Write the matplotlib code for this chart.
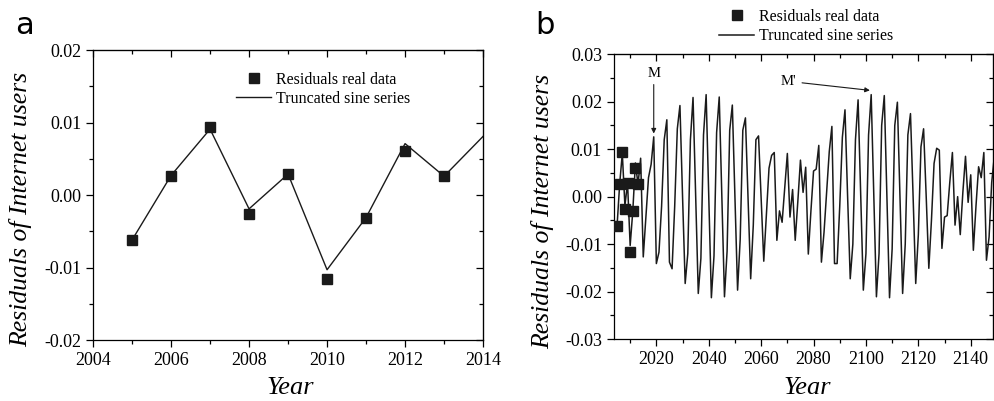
import numpy as np
import matplotlib
matplotlib.use("Agg")
import matplotlib.pyplot as plt
from matplotlib.ticker import MultipleLocator

plt.rcParams["font.family"] = ["Liberation Serif", "DejaVu Serif"]

# ── data ──────────────────────────────────────────────────────────────────────
# observed residuals (squares)
obs_years = [2005, 2006, 2007, 2008, 2009, 2010, 2011, 2012, 2013]
obs_resid = [-0.0062, 0.0027, 0.0094, -0.0026, 0.0029, -0.0116, -0.0031, 0.0061, 0.0026]

# truncated sine series fit, panel a (2005-2014)
fit_years_a = [2005, 2006, 2007, 2008, 2009, 2010, 2011, 2012, 2013, 2014]
fit_vals_a = [-0.0062, 0.0027, 0.0091, -0.0019, 0.0029, -0.0103, -0.0031, 0.0071, 0.0026, 0.0081]

# truncated sine series extrapolated, panel b (2015-2149)
ext_years = list(range(2015, 2150))
ext_vals = [
    -0.0127, -0.0043, 0.0040, 0.0068, 0.0126,   # 2015-2019
    -0.0141, -0.0117, -0.0020, 0.0120, 0.0162,  # 2020-2024
    -0.0138, -0.0152, -0.0020, 0.0143, 0.0192,  # 2025-2029
    0.0000, -0.0183, -0.0120, 0.0120, 0.0209,   # 2030-2034
    0.0005, -0.0204, -0.0130, 0.0130, 0.0215,   # 2035-2039
    0.0000, -0.0213, -0.0125, 0.0135, 0.0210,   # 2040-2044
    0.0000, -0.0211, -0.0115, 0.0140, 0.0193,   # 2045-2049
    0.0000, -0.0197, -0.0090, 0.0140, 0.0166,   # 2050-2054
    0.0000, -0.0173, -0.0060, 0.0120, 0.0128,   # 2055-2059
    -0.0005, -0.0136, -0.0040, 0.0060, 0.0087,  # 2060-2064
    0.0093, -0.0092, -0.0030, -0.0054, 0.0020,  # 2065-2069
    0.0091, -0.0043, 0.0015, -0.0092, -0.0010,  # 2070-2074
    0.0077, 0.0009, 0.0062, -0.0121, -0.0030,   # 2075-2079
    0.0054, 0.0058, 0.0108, -0.0138, -0.0075,   # 2080-2084
    0.0010, 0.0095, 0.0148, -0.0141, -0.0141,   # 2085-2089
    -0.0020, 0.0125, 0.0183, 0.0000, -0.0173,   # 2090-2094
    -0.0100, 0.0120, 0.0204, 0.0000, -0.0197,   # 2095-2099
    -0.0120, 0.0130, 0.0215, 0.0000, -0.0211,   # 2100-2104
    -0.0120, 0.0150, 0.0213, 0.0000, -0.0213,   # 2105-2109
    -0.0110, 0.0150, 0.0199, 0.0000, -0.0204,   # 2110-2114
    -0.0100, 0.0130, 0.0175, 0.0000, -0.0183,   # 2115-2119
    -0.0080, 0.0105, 0.0143, 0.0000, -0.0151,   # 2120-2124
    -0.0050, 0.0070, 0.0102, 0.0098, -0.0109,   # 2125-2129
    -0.0043, -0.0040, 0.0030, 0.0093, -0.0060,  # 2130-2134
    0.0000, -0.0080, 0.0010, 0.0085, -0.0012,   # 2135-2139
    0.0046, -0.0113, -0.0020, 0.0063, 0.0040,   # 2140-2144
    0.0093, -0.0134, -0.0085, 0.0030, 0.0085,   # 2145-2149
]

xticks_a = [2004, 2006, 2008, 2010, 2012, 2014]
yticks_a = [-0.02, -0.01, 0.00, 0.01, 0.02]
xticks_b = [2020, 2040, 2060, 2080, 2100, 2120, 2140]
yticks_b = [-0.03, -0.02, -0.01, 0.00, 0.01, 0.02, 0.03]

fit_years_b = fit_years_a + ext_years
fit_vals_b = fit_vals_a + ext_vals

INK = "#1a1a1a"


def dress(a, xt, xminor, yt, yminor):
    """Origin-like ticks: outward on left/bottom, inward on top/right."""
    a.set_xticks(xt)
    a.set_xticklabels([str(t) for t in xt])
    a.set_yticks(yt)
    a.set_yticklabels([f"{t:.2f}" for t in yt])
    a.xaxis.set_minor_locator(MultipleLocator(xminor))
    a.yaxis.set_minor_locator(MultipleLocator(yminor))
    a.tick_params(which="both", direction="out", labelsize=13, width=0.9)
    a.tick_params(which="major", length=5)
    a.tick_params(which="minor", length=3)
    for sp in a.spines.values():
        sp.set_linewidth(0.9)
    tx = a.secondary_xaxis("top")
    tx.set_xticks(xt)
    tx.xaxis.set_minor_locator(MultipleLocator(xminor))
    ty = a.secondary_yaxis("right")
    ty.set_yticks(yt)
    ty.yaxis.set_minor_locator(MultipleLocator(yminor))
    for s in (tx, ty):
        s.tick_params(which="both", direction="in", labeltop=False,
                      labelright=False, width=0.9)
        s.tick_params(which="major", length=5)
        s.tick_params(which="minor", length=3)


fig = plt.figure(figsize=(9.95, 4.01), dpi=100)

# ── panel a ──────────────────────────────────────────────────────────────────
ax = fig.add_axes([0.0935, 0.152, 0.392, 0.723])
ax.plot(fit_years_a, fit_vals_a, color=INK, lw=1.0, zorder=2,
        label="Truncated sine series")
ax.plot(obs_years, obs_resid, ls="none", marker="s", ms=6.5, color=INK,
        zorder=3, label="Residuals real data")
ax.set_xlim(2004, 2014)
ax.set_ylim(-0.02, 0.02)
dress(ax, xticks_a, 1, yticks_a, 0.005)
ax.set_xlabel("Year", fontsize=19, style="italic")
ax.set_ylabel("Residuals of Internet users", fontsize=18.5, style="italic")
ax.xaxis.set_label_coords(0.505, -0.127)
ax.yaxis.set_label_coords(-0.155, 0.45)

handles, labels = ax.get_legend_handles_labels()
ax.legend(handles[::-1], labels[::-1], loc="upper left",
          bbox_to_anchor=(0.33, 0.975), frameon=False, fontsize=11.5,
          handlelength=2.2, handletextpad=0.3, labelspacing=0.2)
fig.text(0.015, 0.915, "a", fontsize=22, family="DejaVu Sans")

# ── panel b ──────────────────────────────────────────────────────────────────
bx = fig.add_axes([0.617, 0.1546, 0.381, 0.710])
bx.plot(fit_years_b, fit_vals_b, color=INK, lw=1.1, zorder=2,
        label="Truncated sine series")
bx.plot(obs_years, obs_resid, ls="none", marker="s", ms=6.5, color=INK,
        zorder=3, label="Residuals real data")
bx.set_xlim(2003.8, 2148.5)
bx.set_ylim(-0.03, 0.03)
dress(bx, xticks_b, 10, yticks_b, 0.005)
bx.set_xlabel("Year", fontsize=19, style="italic")
bx.set_ylabel("Residuals of Internet users", fontsize=18.5, style="italic")
bx.xaxis.set_label_coords(0.511, -0.134)
bx.yaxis.set_label_coords(-0.158, 0.447)

handles, labels = bx.get_legend_handles_labels()
bx.legend(handles[::-1], labels[::-1], loc="lower left",
          bbox_to_anchor=(0.24, 0.985), frameon=False, fontsize=11.5,
          handlelength=2.2, handletextpad=0.3, labelspacing=0.2)
fig.text(0.538, 0.915, "b", fontsize=22, family="DejaVu Sans")

# annotations
bx.annotate("M", xy=(2019, 0.0133), xytext=(2019, 0.0245),
            ha="center", va="bottom", fontsize=10.5,
            arrowprops=dict(arrowstyle="-|>", color=INK, lw=0.8,
                            mutation_scale=7, shrinkA=1, shrinkB=0))
bx.annotate("M'", xy=(2101.5, 0.0224), xytext=(2073.5, 0.0243),
            ha="right", va="center", fontsize=10.5,
            arrowprops=dict(arrowstyle="-|>", color=INK, lw=0.8,
                            mutation_scale=7, shrinkA=2, shrinkB=0))

fig.savefig("out.png", dpi=100)
